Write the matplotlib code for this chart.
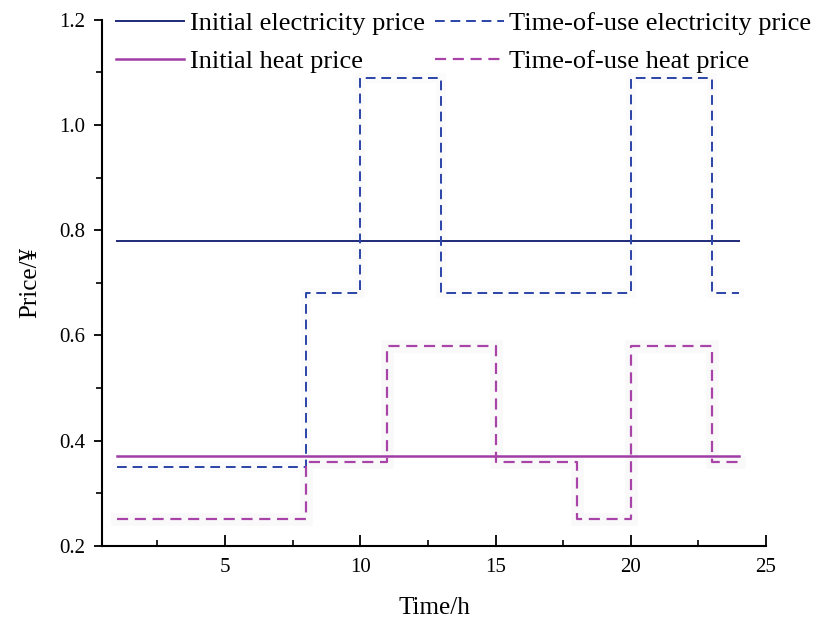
import matplotlib
matplotlib.use("Agg")
import matplotlib.pyplot as plt
from matplotlib.ticker import MultipleLocator

plt.rcParams['font.family'] = ['Liberation Serif', 'DejaVu Serif']

# hours 1..24, step edges
hours = [1, 8, 10, 11, 13, 15, 18, 20, 23, 24]
init_elec = 0.78
init_heat = 0.37
# time-of-use electricity price segments
tou_elec_edges = [1, 8, 10, 13, 20, 23, 24]
tou_elec_vals = [0.35, 0.68, 1.09, 0.68, 1.09, 0.68]
# time-of-use heat price segments
tou_heat_edges = [1, 8, 11, 15, 18, 20, 23, 24]
tou_heat_vals = [0.25, 0.36, 0.58, 0.36, 0.25, 0.58, 0.36]

navy = '#1f2a78'
blue = '#2a44a8'
purple = '#a13ca6'
heatdash = '#a844a8'


def step_xy(edges, vals):
    xs, ys = [], []
    for i, v in enumerate(vals):
        xs += [edges[i], edges[i + 1]]
        ys += [v, v]
    return xs, ys


fig = plt.figure(figsize=(8.29, 6.18), dpi=100)
ax = fig.add_axes([0.123, 0.117, 0.801, 0.851])

ex, ey = step_xy(tou_elec_edges, tou_elec_vals)
hx, hy = step_xy(tou_heat_edges, tou_heat_vals)

# very faint halo behind dashed lines (as in the source image)
ax.plot(hx, hy, color='#f9f9f9', lw=9, solid_joinstyle='miter', zorder=1)
ax.plot(ex, ey, color='#fbfbfb', lw=7, solid_joinstyle='miter', zorder=1)

l1, = ax.plot([hours[0], hours[-1]], [init_elec, init_elec], color=navy, lw=1.4,
              label='Initial electricity price', zorder=3)
l2, = ax.plot(ex, ey, color=blue, lw=1.4, ls=(0, (5, 3)),
              label='Time-of-use electricity price', zorder=3)
l3, = ax.plot([hours[0], hours[-1]], [init_heat, init_heat], color=purple, lw=1.8,
              label='Initial heat price', zorder=3)
l4, = ax.plot(hx, hy, color=heatdash, lw=1.6, ls=(0, (5, 3)),
              label='Time-of-use heat price', zorder=3)

ax.set_xlim(0.45, 25)
ax.set_ylim(0.2, 1.2)
ax.xaxis.set_minor_locator(MultipleLocator(2.5))
ax.yaxis.set_minor_locator(MultipleLocator(0.1))
ax.set_xticks([5, 10, 15, 20, 25])
ax.set_yticks([0.2, 0.4, 0.6, 0.8, 1.0, 1.2])
ax.set_yticklabels(['0.2', '0.4', '0.6', '0.8', '1.0', '1.2'])

for s in ['top', 'right']:
    ax.spines[s].set_visible(False)
for s in ['left', 'bottom']:
    ax.spines[s].set_linewidth(1.5)

ax.tick_params(axis='x', which='major', direction='in', length=8, width=1.3,
               labelsize=15, pad=9)
ax.tick_params(axis='x', which='minor', direction='in', length=4, width=1.2)
ax.tick_params(axis='y', which='major', direction='out', length=6, width=1.3,
               labelsize=15, pad=6)
ax.tick_params(axis='y', which='minor', direction='out', length=4, width=1.2)

ax.set_xlabel('Time/h', fontsize=18, labelpad=14)
ax.set_ylabel('Price/¥', fontsize=18, labelpad=13)

ax.legend(handles=[l1, l3, l2, l4], ncol=2, loc='upper left',
          bbox_to_anchor=(0.005, 1.035), frameon=False, fontsize=19,
          handlelength=2.6, handletextpad=0.2, columnspacing=0.4,
          labelspacing=0.55, borderaxespad=0)

fig.savefig('out.png', dpi=100)
